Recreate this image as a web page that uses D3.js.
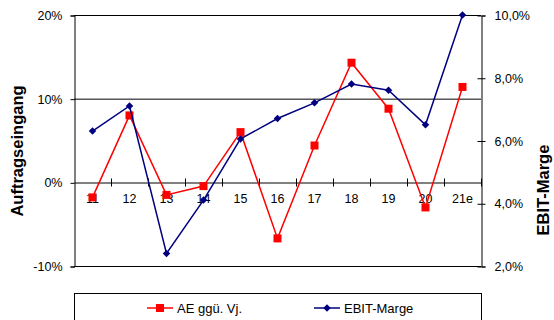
<!DOCTYPE html>
<html lang="de">
<head>
    <meta charset="UTF-8">
    <title>AE und EBIT-Marge</title>
    <style>
        body { margin: 0; background: #fff; }
        svg { font-family: "Liberation Sans", Arial, sans-serif; }
        .tick text { font-size: 12.5px; fill: #000; }
        .axis-title { font-size: 16.5px; font-weight: bold; }
    </style>
</head>
<body>
<svg width="554" height="320"></svg>
<script src="https://d3js.org/d3.v7.min.js"></script>
<script>
    // Jahre (e = erwartet)
    var categories = ["11", "12", "13", "14", "15", "16", "17", "18", "19", "20", "21e"];
    // Auftragseingang ggü. Vorjahr in %
    var aeValues = [-1.8, 8.0, -1.5, -0.45, 6.0, -6.7, 4.4, 14.3, 8.8, -3.0, 11.4];
    // EBIT-Marge in %
    var ebitValues = [6.3, 7.1, 2.4, 4.1, 6.05, 6.7, 7.2, 7.8, 7.6, 6.5, 10.0];
    var leftTicks = [-10, 0, 10, 20];
    var rightTicks = [2, 4, 6, 8, 10];
    var seriesNames = ["AE ggü. Vj.", "EBIT-Marge"];

    var svg = d3.select("svg"),
        plot = {left: 74, right: 481, top: 15, bottom: 266};

    var x = d3.scaleBand().domain(categories).range([plot.left, plot.right]);
    var yL = d3.scaleLinear().domain([-10, 20]).range([plot.bottom, plot.top]);
    var yR = d3.scaleLinear().domain([2, 10]).range([plot.bottom, plot.top]);

    var red = "#ff0000", blue = "#000080";

    // gridlines
    svg.append("g").selectAll("line")
        .data(leftTicks.filter(function(d){ return d !== 0; }))
        .enter().append("line")
        .attr("x1", plot.left).attr("x2", plot.right)
        .attr("y1", function(d){ return yL(d) + 0.5; })
        .attr("y2", function(d){ return yL(d) + 0.5; })
        .attr("stroke", "#000").attr("stroke-width", 1);

    // left axis
    var gL = svg.append("g")
        .attr("transform", "translate(" + (plot.left + 0.5) + ",0.5)")
        .call(d3.axisLeft(yL).tickValues(leftTicks).tickSize(4).tickPadding(8)
            .tickFormat(function(d){ return d + "%"; }));
    gL.select(".domain").attr("stroke", "#000");

    // right axis
    var gR = svg.append("g")
        .attr("transform", "translate(" + (plot.right + 0.5) + ",0.5)")
        .call(d3.axisRight(yR).tickValues(rightTicks).tickSize(4).tickPadding(9)
            .tickFormat(function(d){ return d3.format(".1f")(d).replace(".", ",") + "%"; }));
    gR.select(".domain").attr("stroke", "#000");
    gR.selectAll(".tick line").attr("x1", -4);

    // category axis at 0%
    var y0 = Math.round(yL(0)) + 0.5;
    var gX = svg.append("g")
        .attr("transform", "translate(0," + y0 + ")")
        .call(d3.axisBottom(x).tickSize(0).tickPadding(12));
    gX.select(".domain").attr("stroke", "#000");
    gX.selectAll(".tick text").attr("dy", "0.71em");
    gX.selectAll(".bound")
        .data(categories.slice(1).concat([null]))
        .enter().append("line")
        .attr("x1", function(d, i){ return Math.round(x(categories[i]) + x.step()) + 0.5; })
        .attr("x2", function(d, i){ return Math.round(x(categories[i]) + x.step()) + 0.5; })
        .attr("y1", -4).attr("y2", 4)
        .attr("stroke", "#000");

    // axis titles
    svg.append("text")
        .attr("class", "axis-title")
        .attr("transform", "translate(23,151) rotate(-90)")
        .attr("text-anchor", "middle")
        .text("Auftragseingang");
    svg.append("text")
        .attr("class", "axis-title")
        .attr("transform", "translate(549,190) rotate(-90)")
        .attr("text-anchor", "middle")
        .text("EBIT-Marge");

    var cx = function(d, i){ return x(categories[i]) + x.bandwidth() / 2; };

    // AE series
    svg.append("path")
        .datum(aeValues)
        .attr("fill", "none").attr("stroke", red).attr("stroke-width", 1.5)
        .attr("d", d3.line().x(cx).y(function(d){ return yL(d); }));
    svg.selectAll(".sq")
        .data(aeValues)
        .enter().append("rect")
        .attr("class", "sq")
        .attr("x", function(d, i){ return cx(d, i) - 4; })
        .attr("y", function(d){ return yL(d) - 4; })
        .attr("width", 8).attr("height", 8)
        .attr("fill", red);

    // EBIT series
    var diamond = d3.symbol().type(d3.symbolDiamond2).size(36);
    svg.append("path")
        .datum(ebitValues)
        .attr("fill", "none").attr("stroke", blue).attr("stroke-width", 1.5)
        .attr("d", d3.line().x(cx).y(function(d){ return yR(d); }));
    svg.selectAll(".dm")
        .data(ebitValues)
        .enter().append("path")
        .attr("class", "dm")
        .attr("transform", function(d, i){ return "translate(" + cx(d, i) + "," + yR(d) + ")"; })
        .attr("d", diamond)
        .attr("fill", blue);

    // legend
    svg.append("rect")
        .attr("x", plot.left + 0.5).attr("y", 293.5)
        .attr("width", plot.right - plot.left).attr("height", 40)
        .attr("fill", "#fff").attr("stroke", "#000");

    var legend = svg.selectAll(".legend")
        .data(seriesNames)
        .enter().append("g")
        .attr("class", "legend")
        .attr("transform", function(d, i){ return "translate(" + (147 + i * 167) + ",308)"; });
    legend.append("line")
        .attr("x1", 0).attr("x2", 26)
        .attr("stroke", function(d, i){ return i ? blue : red; })
        .attr("stroke-width", 1.5);
    legend.each(function(d, i){
        var g = d3.select(this);
        if (i === 0) {
            g.append("rect").attr("x", 9).attr("y", -4).attr("width", 8).attr("height", 8).attr("fill", red);
        } else {
            g.append("path").attr("transform", "translate(13,0)").attr("d", diamond).attr("fill", blue);
        }
    });
    legend.append("text")
        .attr("x", 30)
        .attr("dy", "0.35em")
        .style("font-size", "13px")
        .text(function(d){ return d; });
</script>
</body>
</html>
